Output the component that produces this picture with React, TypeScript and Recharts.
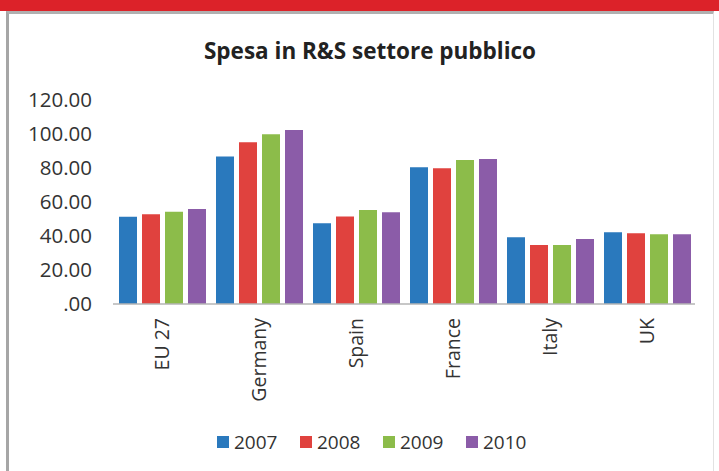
import React from 'react';
import { BarChart, Bar, XAxis, YAxis, Legend } from 'recharts';

const categories = ['EU 27', 'Germany', 'Spain', 'France', 'Italy', 'UK'];
const v2007 = [51.3, 86.7, 47.5, 80.4, 39.2, 42.2];
const v2008 = [52.8, 95.1, 51.4, 79.8, 34.7, 41.6];
const v2009 = [54.3, 99.8, 55.3, 84.7, 34.7, 41.0];
const v2010 = [55.9, 102.4, 54.0, 85.3, 38.2, 41.0];
const yTicks = [0, 20, 40, 60, 80, 100, 120];
const seriesNames = ['2007', '2008', '2009', '2010'];
const seriesColors = ['#2a79bd', '#e0423e', '#8cbc4a', '#8b5ca8'];
const title = 'Spesa in R&S settore pubblico';

const data = categories.map((c, i) => ({
  name: c,
  '2007': v2007[i],
  '2008': v2008[i],
  '2009': v2009[i],
  '2010': v2010[i],
}));

const FONT = '"Open Sans", sans-serif';

const XTick = (props: any) => {
  const { x, y, payload } = props;
  return (
    <g transform={`translate(${x},${y})`}>
      <text
        x={0}
        y={0}
        transform="rotate(-90)"
        textAnchor="end"
        dominantBaseline="central"
        fontFamily={FONT}
        fontSize={19.5}
        fill="#333"
      >
        {payload.value}
      </text>
    </g>
  );
};

const LegendContent = (props: any) => {
  const { payload } = props;
  return (
    <div style={{ display: 'flex', flexDirection: 'row', fontFamily: FONT, fontSize: 19, color: '#333' }}>
      {payload.map((p: any) => (
        <div key={p.value} style={{ display: 'flex', alignItems: 'center', width: 83 }}>
          <span style={{ display: 'inline-block', width: 12, height: 12, background: p.color, marginRight: 5 }} />
          <span>{p.value}</span>
        </div>
      ))}
    </div>
  );
};

export default function App() {
  return (
    <div style={{ position: 'absolute', left: 0, top: 0, width: 719, height: 471, background: '#fff' }}>
      <div style={{ position: 'absolute', left: 0, top: 0, width: 719, height: 11, background: '#dc2229' }} />
      <div
        style={{
          position: 'absolute',
          left: 6,
          top: 11,
          width: 708,
          height: 470,
          borderLeft: '3px solid #a6a6a6',
          borderTop: '3px solid #b0b0b0',
          borderRight: '1px solid #e2e2e2',
          boxSizing: 'border-box',
        }}
      />
      <div style={{ position: 'absolute', left: 0, top: 0 }}>
        <BarChart
          width={719}
          height={471}
          data={data}
          margin={{ top: 100, right: 24, left: 0, bottom: 37 }}
          barCategoryGap={6}
          barGap={5}
        >
          <text
            x={370}
            y={50}
            textAnchor="middle"
            dominantBaseline="central"
            fontFamily={FONT}
            fontWeight="bold"
            fontSize={22.5}
            fill="#222"
          >
            {title}
          </text>
          <XAxis
            dataKey="name"
            height={130}
            tick={<XTick />}
            tickLine={false}
            axisLine={{ stroke: '#b5b5b5', strokeWidth: 1.5 }}
            tickSize={0}
            tickMargin={14}
            interval={0}
          />
          <YAxis
            width={113}
            domain={[0, 120]}
            ticks={yTicks}
            interval={0}
            axisLine={false}
            tickLine={false}
            tickSize={0}
            tickMargin={21}
            tickFormatter={(v: number) => (v === 0 ? '.00' : v.toFixed(2))}
            tick={{ fontFamily: FONT, fontSize: 20.5, fill: '#333' }}
          />
          <Legend
            layout="horizontal"
            verticalAlign="middle"
            align="center"
            content={<LegendContent />}
            wrapperStyle={{ top: 429, left: 217, width: 340 }}
          />
          {seriesNames.map((s, i) => (
            <Bar key={s} dataKey={s} fill={seriesColors[i]} isAnimationActive={false} />
          ))}
        </BarChart>
      </div>
    </div>
  );
}
